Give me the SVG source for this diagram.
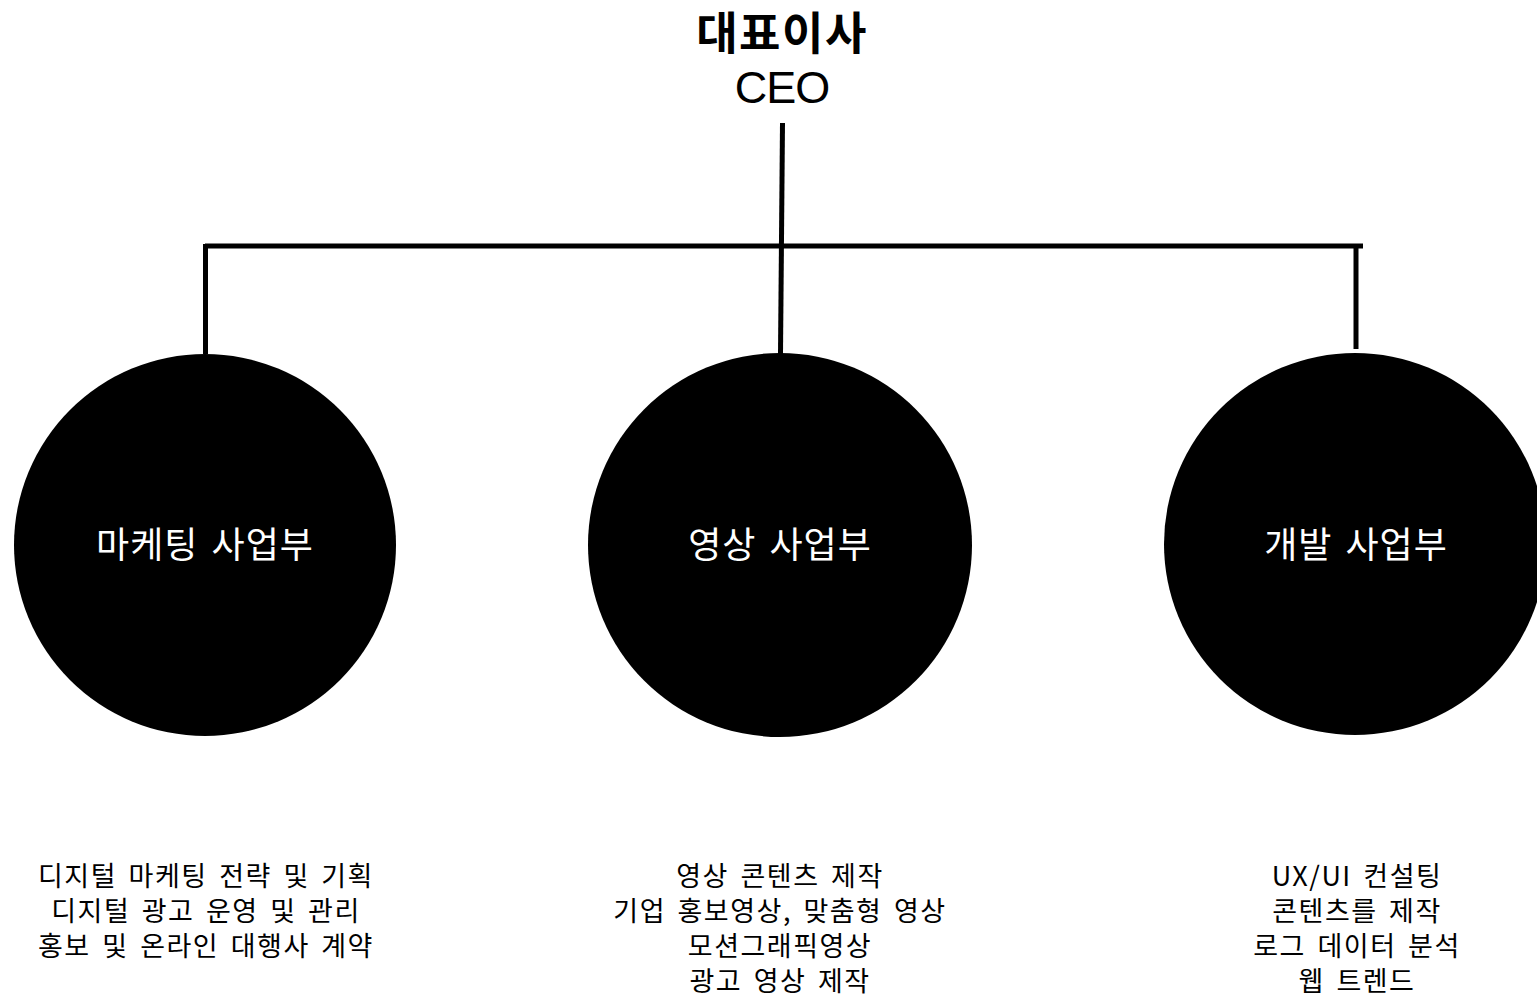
<svg xmlns="http://www.w3.org/2000/svg" width="1537" height="994" viewBox="0 0 1537 994">
<style>
.ko{font-family:"Noto Sans CJK KR","Noto Sans",sans-serif;text-anchor:middle}
.title{font-size:45px;font-weight:bold;fill:#000;letter-spacing:1.5px}
.ceo{font-family:"Liberation Sans",Arial,sans-serif;font-size:45px;fill:#000;text-anchor:middle;letter-spacing:-1px}
.lbl{font-size:36px;fill:#fff;letter-spacing:1px;word-spacing:4px}
.desc{font-size:27px;fill:#000;letter-spacing:1.5px;word-spacing:4px}
.line{stroke:#000;stroke-width:5;fill:none}
.circ{fill:#000}
</style>
<rect width="1537" height="994" fill="#fff"/>
<g id="connectors">
<line class="line" x1="782.5" y1="123" x2="780.5" y2="354"/>
<line class="line" x1="205" y1="246" x2="1363" y2="246"/>
<line class="line" x1="205.5" y1="244" x2="205.5" y2="354"/>
<line class="line" x1="1356" y1="246" x2="1356" y2="349"/>
</g>
<g id="ceo">
<text class="ko title" x="782" y="50">대표이사</text>
<text class="ceo" x="782" y="103">CEO</text>
</g>
<g id="marketing">
<circle class="circ" cx="205" cy="545" r="191"/>
<text class="ko lbl" x="205" y="558">마케팅 사업부</text>
</g>
<g id="video">
<circle class="circ" cx="780" cy="545" r="192"/>
<text class="ko lbl" x="780" y="558">영상 사업부</text>
</g>
<g id="dev">
<circle class="circ" cx="1355" cy="544" r="191"/>
<text class="ko lbl" x="1356" y="558">개발 사업부</text>
</g>
<g id="marketing-desc">
<text class="ko desc" x="206" y="886">디지털 마케팅 전략 및 기획</text>
<text class="ko desc" x="206" y="921">디지털 광고 운영 및 관리</text>
<text class="ko desc" x="206" y="956">홍보 및 온라인 대행사 계약</text>
</g>
<g id="video-desc">
<text class="ko desc" x="780" y="886">영상 콘텐츠 제작</text>
<text class="ko desc" x="780" y="921">기업 홍보영상, 맞춤형 영상</text>
<text class="ko desc" x="780" y="956">모션그래픽영상</text>
<text class="ko desc" x="780" y="991">광고 영상 제작</text>
</g>
<g id="dev-desc">
<text class="ko desc" x="1357" y="886">UX/UI 컨설팅</text>
<text class="ko desc" x="1357" y="921">콘텐츠를 제작</text>
<text class="ko desc" x="1357" y="956">로그 데이터 분석</text>
<text class="ko desc" x="1357" y="991">웹 트렌드</text>
</g>
</svg>
